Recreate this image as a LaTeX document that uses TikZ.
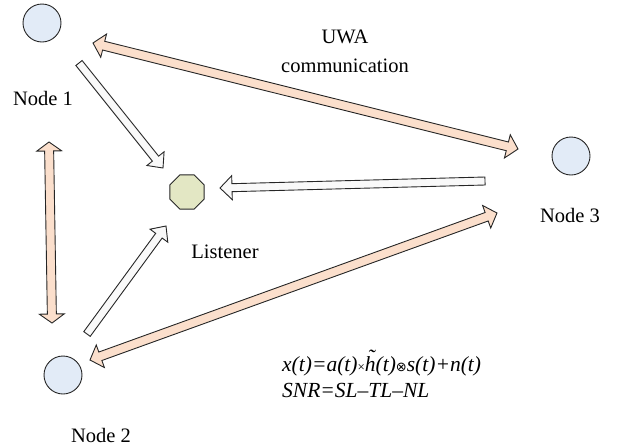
\documentclass[tikz,border=0pt]{standalone}
\usepackage{fontspec}
\setmainfont{Liberation Serif}
\newfontfamily\symfont{DejaVu Sans}
\usetikzlibrary{calc,shapes.geometric}
\definecolor{peach}{RGB}{251,223,204}
\definecolor{nodeblue}{RGB}{226,235,247}
\definecolor{olivefill}{RGB}{227,231,196}
\definecolor{whitearr}{RGB}{249,249,249}
% #1 style, #2 end A, #3 end B, #4 head length, #5 head half width, #6 shaft half width
\newcommand\fatdouble[6]{%
  \coordinate (fdA) at ($(#2)!#4!(#3)$);
  \coordinate (fdB) at ($(#3)!#4!(#2)$);
  \draw[#1] (#2) -- ($(fdA)!#5!90:(#3)$) -- ($(fdA)!#6!90:(#3)$)
    -- ($(fdB)!#6!-90:(#2)$) -- ($(fdB)!#5!-90:(#2)$) -- (#3)
    -- ($(fdB)!#5!90:(#2)$) -- ($(fdB)!#6!90:(#2)$)
    -- ($(fdA)!#6!-90:(#3)$) -- ($(fdA)!#5!-90:(#3)$) -- cycle;}
% #1 style, #2 tail, #3 tip, #4 head length, #5 head half width, #6 shaft half width
\newcommand\fatsingle[6]{%
  \coordinate (fsC) at ($(#3)!#4!(#2)$);
  \draw[#1] ($(#2)!#6!90:(#3)$) -- ($(fsC)!#6!-90:(#2)$) -- ($(fsC)!#5!-90:(#2)$)
    -- (#3) -- ($(fsC)!#5!90:(#2)$) -- ($(fsC)!#6!90:(#2)$)
    -- ($(#2)!#6!-90:(#3)$) -- cycle;}
\begin{document}
\begin{tikzpicture}[x=1pt,y=-1pt,
  circ/.style={circle,draw=black!85,line width=0.9pt,fill=nodeblue,minimum size=38pt,inner sep=0pt},
  oct/.style={regular polygon,regular polygon sides=8,draw=black!85,line width=0.9pt,fill=olivefill,minimum size=37pt,inner sep=0pt},
  lbl/.style={font=\fontsize{20.5}{24}\selectfont,anchor=base,inner sep=0pt},
  frm/.style={font=\fontsize{21.5}{24}\selectfont\itshape,anchor=base west,inner sep=0pt},
  peacharrow/.style={draw=black!85,line width=0.9pt,fill=peach},
  whitearrow/.style={draw=black!85,line width=0.9pt,fill=whitearr}]
\useasboundingbox (0,0) rectangle (621,445);
% nodes
\node[circ] (n1) at (42,23) {};
\node[circ] (n2) at (63,375) {};
\node[circ] (n3) at (571,156) {};
\node[oct] (lis) at (187,192) {};
% labels
\node[lbl] (t1) at (43,105) {Node 1};
\node[lbl] (t2) at (101,442) {Node 2};
\node[lbl] (t3) at (570,222) {Node 3};
\node[lbl] (tl) at (225,258) {Listener};
\node[lbl] (tu1) at (345,43) {UWA};
\node[lbl] (tu2) at (345,72) {communication};
\node[frm] (f1) at (282,371) {x(t)=a(t){\upshape\fontsize{13}{13}\selectfont ×}\makebox[0pt][l]{\kern0.12em\raisebox{0.3em}{˜}}h(t){\symfont\fontsize{13}{13}\selectfont ⊗}s(t)+n(t)};
\node[frm] (f2) at (282,397) {SNR=SL–TL–NL};
% arrow end points
\coordinate (a1) at (93,43);
\coordinate (b1) at (518,149);
\coordinate (a2) at (49,142);
\coordinate (b2) at (52,323);
\coordinate (a3) at (90,360);
\coordinate (b3) at (497,213);
\coordinate (w1t) at (79,63);
\coordinate (w1h) at (163,168);
\coordinate (w2t) at (485,181);
\coordinate (w2h) at (220,188);
\coordinate (w3t) at (87,334);
\coordinate (w3h) at (166,226);
% peach double arrows
\fatdouble{peacharrow}{a1}{b1}{11pt}{12pt}{4.5pt}
\fatdouble{peacharrow}{a2}{b2}{9pt}{12.5pt}{4.5pt}
\fatdouble{peacharrow}{a3}{b3}{11pt}{12pt}{4.5pt}
% white single arrows
\fatsingle{whitearrow}{w1t}{w1h}{12pt}{11pt}{4pt}
\fatsingle{whitearrow}{w2t}{w2h}{12pt}{12pt}{4pt}
\fatsingle{whitearrow}{w3t}{w3h}{12pt}{11pt}{4pt}
\end{tikzpicture}
\end{document}
